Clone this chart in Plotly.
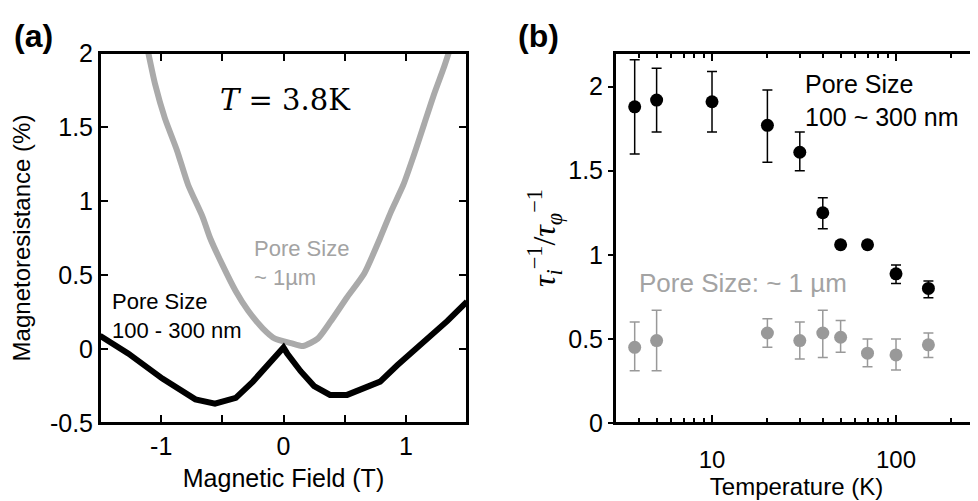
import plotly.graph_objects as go

# ---------------- Panel (a): magnetoresistance vs field ----------------
field_small_pore = [-1.5, -1.27, -0.99, -0.86, -0.72, -0.56, -0.39, -0.25, -0.12, 0.0,
                    0.03, 0.14, 0.25, 0.38, 0.52, 0.66, 0.79, 0.93, 1.07, 1.20, 1.34, 1.5]
mr_small_pore = [0.09, -0.03, -0.20, -0.27, -0.34, -0.37, -0.33, -0.22, -0.10, 0.01,
                 -0.03, -0.15, -0.25, -0.31, -0.31, -0.26, -0.22, -0.11, -0.01, 0.09, 0.19, 0.32]

field_large_pore = [-1.105, -1.05, -0.97, -0.87, -0.78, -0.66, -0.60, -0.50, -0.39, -0.29,
                    -0.17, -0.07, 0.06, 0.16, 0.28, 0.38, 0.52, 0.66, 0.79, 0.88, 0.98,
                    1.07, 1.15, 1.23, 1.31, 1.35]
mr_large_pore = [2.0, 1.79, 1.56, 1.34, 1.11, 0.89, 0.75, 0.57, 0.39, 0.26,
                 0.14, 0.07, 0.04, 0.02, 0.07, 0.18, 0.35, 0.51, 0.75, 0.93, 1.11,
                 1.32, 1.52, 1.72, 1.90, 2.0]

a_xtickvals = [-1.5, -1, -0.5, 0, 0.5, 1, 1.5]
a_xticktext = ["", "-1", "", "0", "", "1", ""]
a_ytickvals = [-0.5, 0, 0.5, 1, 1.5, 2]
a_yticktext = ["-0.5", "0", "0.5", "1", "1.5", "2"]

# ---------------- Panel (b): tau ratio vs temperature ----------------
temp_small_pore = [3.8, 5, 10, 20, 30, 40, 50, 70, 100, 150, 300]
ratio_small_pore = [1.88, 1.92, 1.91, 1.77, 1.61, 1.25, 1.06, 1.06, 0.887, 0.80, 0.48]
err_up_small_pore = [0.28, 0.19, 0.18, 0.21, 0.12, 0.09, 0.015, 0.015, 0.053, 0.045, 0.05]
err_dn_small_pore = [0.28, 0.19, 0.18, 0.22, 0.11, 0.095, 0.015, 0.015, 0.057, 0.055, 0.05]

temp_large_pore = [3.8, 5, 20, 30, 40, 50, 70, 100, 150, 300]
ratio_large_pore = [0.45, 0.49, 0.535, 0.49, 0.535, 0.51, 0.415, 0.405, 0.465, 0.52]
err_up_large_pore = [0.15, 0.18, 0.085, 0.11, 0.135, 0.10, 0.085, 0.095, 0.07, 0.11]
err_dn_large_pore = [0.14, 0.18, 0.085, 0.11, 0.145, 0.09, 0.08, 0.09, 0.075, 0.10]

b_xtickvals = [10, 100]
b_xticktext = ["10", "100"]
b_xminorvals = [4, 5, 6, 7, 8, 9, 20, 30, 40, 50, 60, 70, 80, 90, 200]
b_ytickvals = [0, 0.5, 1, 1.5, 2]
b_yticktext = ["0", "0.5", "1", "1.5", "2"]

SANS = "Liberation Sans, Arial, sans-serif"
SERIF = "DejaVu Serif, Liberation Serif, serif"
GRAY_LINE = "#aaaaaa"
GRAY_MARK = "#999999"
GRAY_TEXT = "#a3a3a3"
FRAME_COLOR = "black"

A_XR = [-1.5, 1.5]
A_YR = [-0.5, 2.0]
B_XR = [0.4728, 2.4456]   # log10 units
B_YR = [0.0, 2.2]
W, H = 878.0, 370.0
A_W = 367.0

fig = go.Figure()

fig.add_trace(go.Scatter(x=field_large_pore, y=mr_large_pore, mode="lines",
                         line=dict(color=GRAY_LINE, width=6, shape="spline", smoothing=0.6),
                         xaxis="x", yaxis="y", showlegend=False, hoverinfo="skip"))
fig.add_trace(go.Scatter(x=field_small_pore, y=mr_small_pore, mode="lines",
                         line=dict(color="black", width=6),
                         xaxis="x", yaxis="y", showlegend=False, hoverinfo="skip"))

fig.add_trace(go.Scatter(x=temp_large_pore, y=ratio_large_pore, mode="markers",
                         marker=dict(color=GRAY_MARK, size=13),
                         error_y=dict(type="data", symmetric=False, array=err_up_large_pore,
                                      arrayminus=err_dn_large_pore, color=GRAY_MARK,
                                      thickness=1.5, width=5),
                         cliponaxis=False, xaxis="x2", yaxis="y2", showlegend=False))
fig.add_trace(go.Scatter(x=temp_small_pore, y=ratio_small_pore, mode="markers",
                         marker=dict(color="black", size=13),
                         error_y=dict(type="data", symmetric=False, array=err_up_small_pore,
                                      arrayminus=err_dn_small_pore, color="black",
                                      thickness=1.5, width=5),
                         cliponaxis=False, xaxis="x2", yaxis="y2", showlegend=False))

axis_common = dict(showgrid=False, zeroline=False, showline=True,
                   linecolor=FRAME_COLOR, linewidth=2, tickcolor=FRAME_COLOR)

fig.update_layout(
    width=970, height=493,
    margin=dict(l=92, r=0, t=45, b=78, pad=0),
    paper_bgcolor="white", plot_bgcolor="white",
    font=dict(family=SANS, color="black"),
    xaxis=dict(**axis_common, domain=[0, A_W / W], range=A_XR,
               tickmode="array", tickvals=a_xtickvals, ticktext=a_xticktext,
               ticks="inside", ticklen=8, tickwidth=2, mirror="ticks",
               ticklabelstandoff=0,
               tickfont=dict(size=25, family=SANS),
               title=dict(text="Magnetic Field (T)", font=dict(size=25, family=SANS), standoff=10),
               anchor="y"),
    yaxis=dict(**axis_common, domain=[0, 1], range=A_YR,
               tickmode="array", tickvals=a_ytickvals, ticktext=a_yticktext,
               ticks="inside", ticklen=8, tickwidth=2, mirror="ticks",
               tickfont=dict(size=25, family=SANS),
               title=dict(text="Magnetoresistance (%)", font=dict(size=24, family=SANS), standoff=14),
               anchor="x"),
    xaxis2=dict(**axis_common, domain=[515 / W, 1], type="log", range=B_XR,
                tickmode="array", tickvals=b_xtickvals, ticktext=b_xticktext,
                ticks="inside", ticklen=8, tickwidth=2, mirror="ticks",
                minor=dict(tickmode="array", tickvals=b_xminorvals, ticks="inside",
                           ticklen=5, tickwidth=2, tickcolor=FRAME_COLOR, showgrid=False),
                ticklabelstandoff=14,
                tickfont=dict(size=24, family=SANS),
                title=dict(text="Temperature (K)", font=dict(size=24, family=SANS), standoff=2),
                anchor="y2"),
    yaxis2=dict(**axis_common, domain=[0, 1], range=B_YR,
                tickmode="array", tickvals=b_ytickvals, ticktext=b_yticktext,
                ticks="outside", ticklen=5, tickwidth=2, mirror=False,
                tickfont=dict(size=25, family=SANS),
                title=dict(text="<i>τ</i><sub><i>i</i></sub><sup>−1</sup>/<i>τ</i><sub><i>φ</i></sub><sup>−1</sup>",
                           font=dict(size=32, family="Liberation Serif, serif", color="black"),
                           standoff=3),
                anchor="x2"),
)

# frames (drawn over the axis lines)
frame = dict(color=FRAME_COLOR, width=2)
fig.add_shape(type="rect", xref="x domain", yref="y domain", x0=0, x1=1, y0=0, y1=1,
              line=frame, layer="above")
fig.add_shape(type="line", xref="x2 domain", yref="y2 domain", x0=0, x1=1, y0=0, y1=0,
              line=frame, layer="above")
fig.add_shape(type="line", xref="x2 domain", yref="y2 domain", x0=0, x1=1, y0=1, y1=1,
              line=frame, layer="above")
fig.add_shape(type="line", xref="x2 domain", yref="y2 domain", x0=0, x1=0, y0=0, y1=1,
              line=frame, layer="above")


def px(xp):
    return (xp - 100) / W


def py(yp):
    return (423 - yp) / H


annotations = [
    dict(text="<b>(a)</b>", x=px(12), y=py(36), xref="paper", yref="paper",
         xanchor="left", yanchor="middle", showarrow=False, font=dict(size=32, family=SANS)),
    dict(text="<b>(b)</b>", x=px(516), y=py(36), xref="paper", yref="paper",
         xanchor="left", yanchor="middle", showarrow=False, font=dict(size=32, family=SANS)),
    dict(text="<i>T</i> = 3.8K", x=0.02, y=1.68, xref="x", yref="y",
         xanchor="center", yanchor="middle", showarrow=False, font=dict(size=29, family=SERIF)),
    dict(text="Pore Size<br>~ 1µm", x=-0.254, y=0.58, xref="x", yref="y",
         xanchor="left", yanchor="middle", align="left", showarrow=False,
         font=dict(size=22, family=SANS, color=GRAY_TEXT)),
    dict(text="Pore Size<br>100 - 300 nm", x=-1.418, y=0.226, xref="x", yref="y",
         xanchor="left", yanchor="middle", align="left", showarrow=False,
         font=dict(size=22, family=SANS, color="black")),
    dict(text="Pore Size<br>100 ~ 300 nm", x=1.4946, y=1.917, xref="x2", yref="y2",
         xanchor="left", yanchor="middle", align="left", showarrow=False,
         font=dict(size=25, family=SANS, color="black")),
    dict(text="Pore Size: ~ 1 µm", x=0.592, y=0.833, xref="x2", yref="y2",
         xanchor="left", yanchor="middle", align="left", showarrow=False,
         font=dict(size=26, family=SANS, color=GRAY_TEXT)),
]
fig.update_layout(annotations=annotations)

fig.write_html("out.html")
